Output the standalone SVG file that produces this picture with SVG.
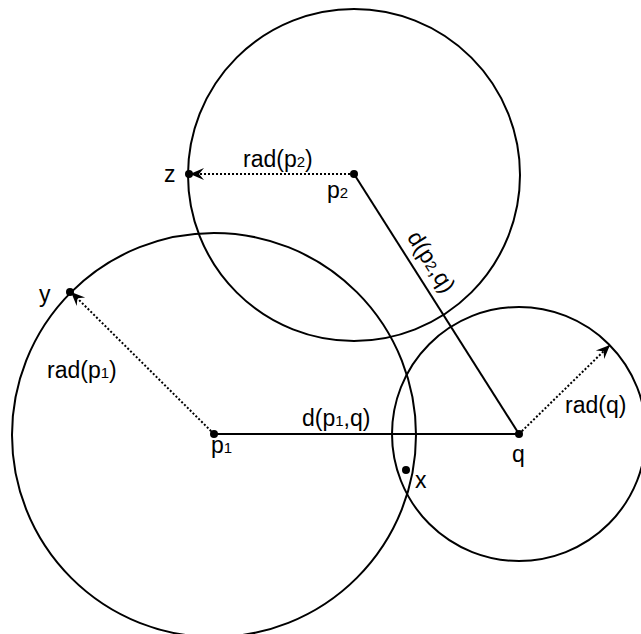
<svg xmlns="http://www.w3.org/2000/svg" width="641" height="634" viewBox="0 0 641 634">
<defs>
<style>
.c{fill:none;stroke:#000;stroke-width:2}
.s{fill:none;stroke:#000;stroke-width:2}
.d{fill:none;stroke:#000;stroke-width:2;stroke-dasharray:2 2}
.t{font-family:"Liberation Sans",Arial,sans-serif;font-size:23px;fill:#000}
.sub{font-size:15px}
.pt{fill:#000}
</style>
<marker id="arr" markerUnits="userSpaceOnUse" orient="auto" overflow="visible" markerWidth="1" markerHeight="1"><path d="M0,0 L-14,-6 L-9,0 L-14,6 Z" fill="#000"/></marker>
</defs>
<g id="circle-p1"><circle class="c" cx="214" cy="435" r="202"/></g>
<g id="circle-p2"><circle class="c" cx="354" cy="175" r="166"/></g>
<g id="circle-q"><circle class="c" cx="519" cy="434" r="127"/></g>
<g id="connectors">
<line class="s" x1="214" y1="434" x2="519" y2="434"/>
<line class="s" x1="354" y1="174" x2="519" y2="434"/>
<line class="d" x1="354" y1="174" x2="190" y2="174" marker-end="url(#arr)"/>
<line class="d" x1="214" y1="434" x2="71" y2="292" marker-end="url(#arr)"/>
<line class="d" x1="519" y1="434" x2="610" y2="345" marker-end="url(#arr)"/>
</g>
<g id="p1"><circle class="pt" cx="214" cy="434" r="4"/><text class="t" x="211" y="453">p<tspan class="sub">1</tspan></text></g>
<g id="p2"><circle class="pt" cx="354" cy="174" r="4"/><text class="t" x="327" y="198">p<tspan class="sub">2</tspan></text></g>
<g id="q"><circle class="pt" cx="519" cy="434" r="4"/><text class="t" x="512" y="462">q</text></g>
<g id="z"><circle class="pt" cx="189" cy="174" r="4"/><text class="t" x="164" y="182">z</text></g>
<g id="y"><circle class="pt" cx="70" cy="292" r="4"/><text class="t" x="39" y="302">y</text></g>
<g id="x"><circle class="pt" cx="406" cy="470" r="4"/><text class="t" x="415" y="488">x</text></g>
<g id="labels">
<text class="t" x="243" y="167">rad(p<tspan class="sub">2</tspan>)</text>
<text class="t" x="47" y="378">rad(p<tspan class="sub">1</tspan>)</text>
<text class="t" x="302" y="426">d(p<tspan class="sub">1</tspan>,q)</text>
<text class="t" x="565" y="413">rad(q)</text>
<text class="t" x="425" y="266" text-anchor="middle" transform="rotate(57.3 425 266)">d(p<tspan class="sub">2</tspan>,q)</text>
</g>
</svg>
